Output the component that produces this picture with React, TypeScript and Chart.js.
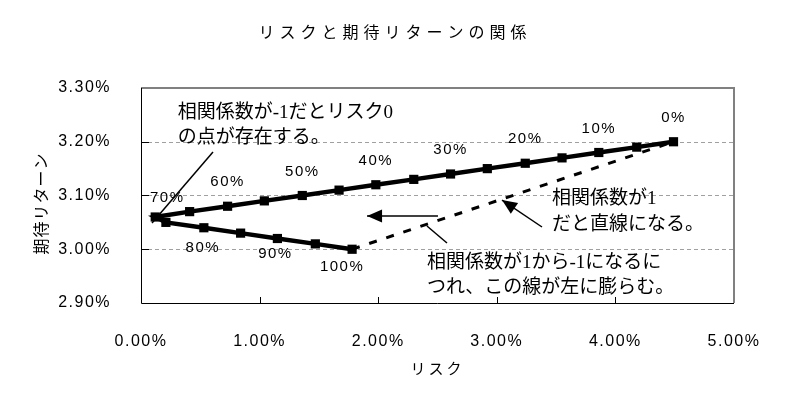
import React, { useEffect, useRef } from "react";
import { Chart, registerables } from "chart.js";

Chart.register(...registerables);

// ---- data ----
const weights = [0, 5, 10, 15, 20, 25, 30, 35, 40, 45, 50, 55, 60, 65, 70, 75, 80, 85, 90, 95, 100];
const riskPct = [4.49, 4.18, 3.86, 3.55, 3.24, 2.92, 2.61, 2.3, 1.98, 1.67, 1.36, 1.04, 0.73, 0.41, 0.12, 0.21, 0.53, 0.84, 1.15, 1.47, 1.78];
const returnPct = [3.2, 3.19, 3.18, 3.17, 3.16, 3.15, 3.14, 3.13, 3.12, 3.11, 3.1, 3.09, 3.08, 3.07, 3.06, 3.05, 3.04, 3.03, 3.02, 3.01, 3.0];
const corrOneRisk = [1.78, 4.49];
const corrOneReturn = [3.0, 3.2];
const xTicks = [0, 1, 2, 3, 4, 5];
const yTicks = [2.9, 3.0, 3.1, 3.2, 3.3];

const titleText = "リスクと期待リターンの関係";
const xTitle = "リスク";
const yTitle = "期待リターン";
const note1 = ["相関係数が-1だとリスク0", "の点が存在する。"];
const note2 = ["相関係数が1", "だと直線になる。"];
const note3 = ["相関係数が1から-1になるに", "つれ、この線が左に膨らむ。"];

const NUM_FONT = "'Liberation Sans', Arial, sans-serif";
const JP_FONT = "'Noto Sans CJK JP', sans-serif";
const NOTE_FONT = "19px 'Liberation Serif', 'Noto Sans CJK JP', serif";

const fmtPct = (v: number) => Number(v).toFixed(2) + "%";

function arrow(ctx: CanvasRenderingContext2D, x1: number, y1: number, x2: number, y2: number, head: boolean) {
  ctx.beginPath();
  ctx.moveTo(x1, y1);
  ctx.lineTo(x2, y2);
  ctx.stroke();
  if (head) {
    const ang = Math.atan2(y2 - y1, x2 - x1);
    const L = 15, W = 6.5;
    ctx.beginPath();
    ctx.moveTo(x2, y2);
    ctx.lineTo(x2 - L * Math.cos(ang) + W * Math.sin(ang), y2 - L * Math.sin(ang) - W * Math.cos(ang));
    ctx.lineTo(x2 - L * Math.cos(ang) - W * Math.sin(ang), y2 - L * Math.sin(ang) + W * Math.cos(ang));
    ctx.closePath();
    ctx.fill();
  }
}

const decorPlugin = {
  id: "decor",
  beforeDraw(chart: any) {
    (chart.ctx as any).letterSpacing = "1.5px";
  },
  beforeDatasetsDraw(chart: any) {
    const { ctx, chartArea: a, scales } = chart;
    const x = scales.x, y = scales.y;
    ctx.save();
    (ctx as any).letterSpacing = "0px";
    // dashed horizontal gridlines
    ctx.strokeStyle = "#a0a0a0";
    ctx.lineWidth = 1;
    ctx.setLineDash([4, 3]);
    yTicks.forEach((v) => {
      if (v <= y.min || v >= y.max) return;
      const py = Math.round(y.getPixelForValue(v)) + 0.5;
      ctx.beginPath();
      ctx.moveTo(a.left, py);
      ctx.lineTo(a.right, py);
      ctx.stroke();
    });
    ctx.setLineDash([]);
    // gray top/right frame
    ctx.strokeStyle = "#808080";
    ctx.lineWidth = 2;
    ctx.beginPath();
    ctx.moveTo(a.left, a.top);
    ctx.lineTo(a.right, a.top);
    ctx.lineTo(a.right, a.bottom);
    ctx.stroke();
    // black axes
    ctx.strokeStyle = "#000";
    ctx.lineWidth = 1;
    ctx.beginPath();
    ctx.moveTo(a.left + 0.5, a.top);
    ctx.lineTo(a.left + 0.5, a.bottom + 0.5);
    ctx.lineTo(a.right, a.bottom + 0.5);
    ctx.stroke();
    // inner tick marks
    ctx.beginPath();
    xTicks.forEach((v) => {
      if (v <= x.min || v >= x.max) return;
      const px = Math.round(x.getPixelForValue(v)) + 0.5;
      ctx.moveTo(px, a.bottom);
      ctx.lineTo(px, a.bottom - 6);
    });
    yTicks.forEach((v) => {
      if (v <= y.min || v >= y.max) return;
      const py = Math.round(y.getPixelForValue(v)) + 0.5;
      ctx.moveTo(a.left, py);
      ctx.lineTo(a.left + 8, py);
    });
    ctx.stroke();
    ctx.restore();
  },
  afterDraw(chart: any) {
    const { ctx, chartArea: a, scales } = chart;
    const x = scales.x, y = scales.y;
    const X = (v: number) => x.getPixelForValue(v);
    const Y = (v: number) => y.getPixelForValue(v);
    ctx.save();
    ctx.fillStyle = "#000";
    ctx.strokeStyle = "#000";

    // title
    ctx.font = "16px " + JP_FONT;
    (ctx as any).letterSpacing = "5px";
    ctx.textAlign = "center";
    ctx.textBaseline = "middle";
    ctx.fillText(titleText, 395, 32);

    // x title
    ctx.font = "15px " + JP_FONT;
    (ctx as any).letterSpacing = "3px";
    ctx.fillText(xTitle, (a.left + a.right) / 2, 368);

    // y title
    ctx.save();
    ctx.translate(41, (a.top + a.bottom) / 2 + 8);
    ctx.rotate(-Math.PI / 2);
    ctx.font = "16px " + JP_FONT;
    (ctx as any).letterSpacing = "1px";
    ctx.fillText(yTitle, 0, 0);
    ctx.restore();

    // data labels (weights)
    ctx.font = "15px " + NUM_FONT;
    (ctx as any).letterSpacing = "1.5px";
    const meta = chart.getDatasetMeta(0);
    weights.forEach((w, i) => {
      if (w % 10 !== 0) return;
      const pt = meta.data[i];
      let dx = 0, dy = -24;
      if (w === 70) { dx = 12; dy = -19; }
      else if (w === 80) { dx = -1; dy = 20; }
      else if (w === 90) { dx = -2; dy = 15; }
      else if (w === 100) { dx = -10; dy = 18; }
      ctx.fillText(w + "%", pt.x + dx, pt.y + dy);
    });

    // annotations
    ctx.font = NOTE_FONT;
    (ctx as any).letterSpacing = "0px";
    ctx.textAlign = "left";
    ctx.textBaseline = "middle";
    ctx.fillText(note1[0], X(0.31), Y(3.2535));
    ctx.fillText(note1[1], X(0.31), Y(3.2535) + 25);
    ctx.fillText(note2[0], X(3.465), Y(3.0935));
    ctx.fillText(note2[1], X(3.465), Y(3.0935) + 26);
    ctx.fillText(note3[0], X(2.411), Y(2.9744));
    ctx.fillText(note3[1], X(2.411), Y(2.9744) + 25);

    ctx.lineWidth = 1.5;
    arrow(ctx, X(0.607), Y(3.181), X(0.093), Y(3.049), false);
    arrow(ctx, X(3.381), Y(3.0414), X(3.044), Y(3.0916), true);
    arrow(ctx, X(2.504), Y(3.062), X(1.906), Y(3.062), true);
    arrow(ctx, X(2.411), Y(3.0433), X(2.58), Y(3.0116), false);

    ctx.restore();
  },
};

export default function App() {
  const ref = useRef<HTMLCanvasElement | null>(null);

  useEffect(() => {
    if (!ref.current) return;
    const chart = new Chart(ref.current, {
      type: "scatter",
      data: {
        datasets: [
          {
            label: "portfolio",
            data: riskPct.map((r, i) => ({ x: r, y: returnPct[i] })),
            showLine: true,
            borderColor: "#000",
            backgroundColor: "#000",
            borderWidth: 4.5,
            pointStyle: "rect",
            pointRadius: 6.5,
            pointBorderWidth: 0,
            pointHoverRadius: 6.5,
          },
          {
            label: "corr1",
            data: corrOneRisk.map((r, i) => ({ x: r, y: corrOneReturn[i] })),
            showLine: true,
            borderColor: "#000",
            borderWidth: 3,
            borderDash: [8, 10],
            pointRadius: 0,
          },
        ],
      },
      options: {
        responsive: false,
        animation: false,
        devicePixelRatio: 1,
        layout: { padding: { left: 0, top: 88, right: 55, bottom: 0 } },
        plugins: {
          legend: { display: false },
          title: { display: false },
          tooltip: { enabled: false },
        },
        scales: {
          x: {
            type: "linear",
            min: 0,
            max: 5,
            afterBuildTicks: (s: any) => {
              s.ticks = xTicks.map((v) => ({ value: v }));
            },
            afterFit: (s: any) => {
              s.height = 105;
            },
            grid: { display: false },
            border: { display: false },
            ticks: {
              callback: (v: any) => fmtPct(v),
              font: { family: NUM_FONT, size: 16 },
              color: "#000",
              padding: 21,
              maxRotation: 0,
              autoSkip: false,
            },
          },
          y: {
            type: "linear",
            min: 2.9,
            max: 3.3,
            afterBuildTicks: (s: any) => {
              s.ticks = yTicks.map((v) => ({ value: v }));
            },
            afterFit: (s: any) => {
              s.width = 141;
            },
            grid: { display: false },
            border: { display: false },
            ticks: {
              callback: (v: any) => fmtPct(v),
              font: { family: NUM_FONT, size: 16 },
              color: "#000",
              padding: 22,
              autoSkip: false,
            },
          },
        },
      },
      plugins: [decorPlugin],
    } as any);
    return () => chart.destroy();
  }, []);

  return (
    <div style={{ position: "fixed", left: 0, top: 0, width: 789, height: 408, background: "#fff" }}>
      <canvas ref={ref} width={789} height={408} />
    </div>
  );
}
